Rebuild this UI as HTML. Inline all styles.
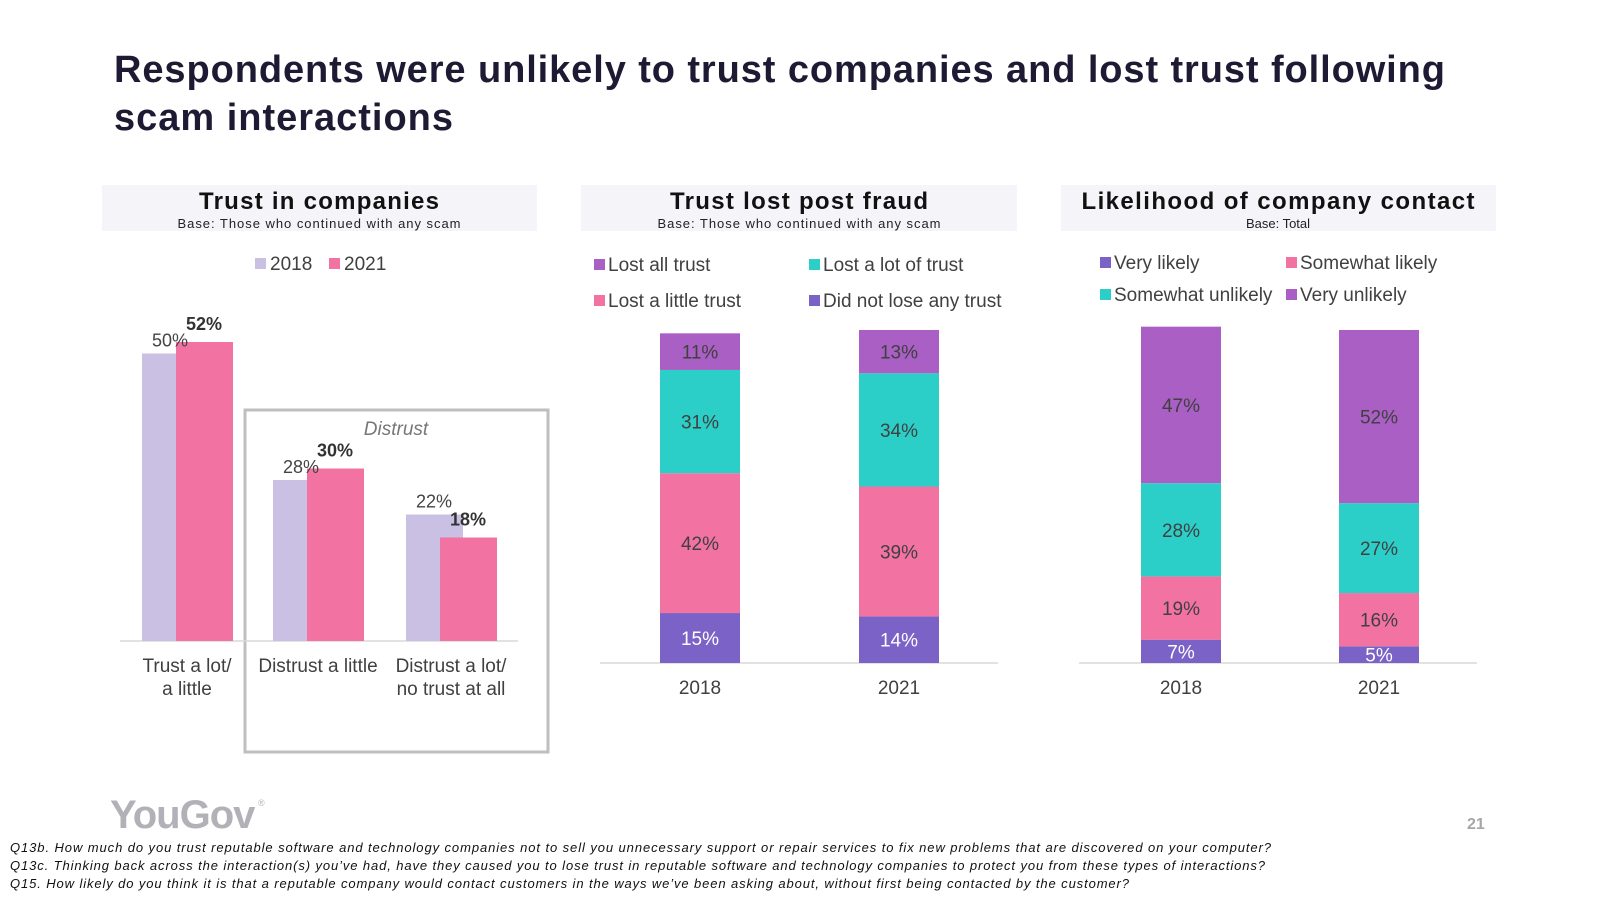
<!DOCTYPE html>
<html><head><meta charset="utf-8"><style>
body{margin:0;background:#fff;}
svg{display:block;font-family:"Liberation Sans",Arial,sans-serif;}
</style></head><body>
<svg id="s" width="1600" height="900" viewBox="0 0 1600 900">
<text x="114" y="82" font-size="38" font-weight="bold" fill="#1f1a33" textLength="1331" lengthAdjust="spacing">Respondents were unlikely to trust companies and lost trust following</text>
<text x="114" y="130" font-size="38" font-weight="bold" fill="#1f1a33" textLength="339" lengthAdjust="spacing">scam interactions</text>

<rect x="102" y="185" width="435" height="46" fill="#f5f5f9"/>
<text x="319" y="209" font-size="24" font-weight="bold" text-anchor="middle" fill="#111" textLength="240" lengthAdjust="spacing">Trust in companies</text>
<text x="319" y="228" font-size="13" text-anchor="middle" fill="#222" textLength="283" lengthAdjust="spacing">Base: Those who continued with any scam</text>
<rect x="581" y="185" width="436" height="46" fill="#f5f5f9"/>
<text x="799" y="209" font-size="24" font-weight="bold" text-anchor="middle" fill="#111" textLength="258" lengthAdjust="spacing">Trust lost post fraud</text>
<text x="799" y="228" font-size="13" text-anchor="middle" fill="#222" textLength="283" lengthAdjust="spacing">Base: Those who continued with any scam</text>
<rect x="1061" y="185" width="435" height="46" fill="#f5f5f9"/>
<text x="1278" y="209" font-size="24" font-weight="bold" text-anchor="middle" fill="#111" textLength="393" lengthAdjust="spacing">Likelihood of company contact</text>
<text x="1278" y="228" font-size="13" text-anchor="middle" fill="#222">Base: Total</text>

<rect x="245" y="410" width="303" height="342" fill="none" stroke="#bfbfbf" stroke-width="3"/>
<text x="396" y="435" font-size="19" font-style="italic" text-anchor="middle" fill="#777">Distrust</text>

<g id="c1"></g><g id="c2"></g><g id="c3"></g>

<text x="110" y="828" font-size="40" font-weight="bold" fill="#b3b1b8" letter-spacing="-1">YouGov</text>
<text x="258" y="806" font-size="9" fill="#b3b1b8">®</text>
<text x="1467" y="829" font-size="16" font-weight="bold" fill="#a6a6a6">21</text>
<text x="10" y="852" font-size="13" font-style="italic" fill="#111" textLength="1261" lengthAdjust="spacing">Q13b. How much do you trust reputable software and technology companies not to sell you unnecessary support or repair services to fix new problems that are discovered on your computer?</text>
<text x="10" y="870" font-size="13" font-style="italic" fill="#111" textLength="1255" lengthAdjust="spacing">Q13c. Thinking back across the interaction(s) you’ve had, have they caused you to lose trust in reputable software and technology companies to protect you from these types of interactions?</text>
<text x="10" y="888" font-size="13" font-style="italic" fill="#111" textLength="1119" lengthAdjust="spacing">Q15. How likely do you think it is that a reputable company would contact customers in the ways we’ve been asking about, without first being contacted by the customer?</text>
</svg>
<script>
const c1Categories=[["Trust a lot/","a little"],["Distrust a little"],["Distrust a lot/","no trust at all"]];
const c1Values2018=[50,28,22];
const c1Values2021=[52,30,18];
const stackYears=["2018","2021"];
const c2Series=["Did not lose any trust","Lost a little trust","Lost a lot of trust","Lost all trust"];
const c2Values=[[15,14],[42,39],[31,34],[11,13]];
const c3Series=["Very likely","Somewhat likely","Somewhat unlikely","Very unlikely"];
const c3Values=[[7,5],[19,16],[28,27],[47,52]];

const NS="http://www.w3.org/2000/svg";
function el(p,t,a,txt){const e=document.createElementNS(NS,t);for(const k in a)e.setAttribute(k,a[k]);if(txt!=null)e.textContent=txt;p.appendChild(e);return e;}
const LAV="#c9c0e4",PINK="#f272a2",CYAN="#2ccfc8",PUR="#a95fc4",DPUR="#7b62c6";

const g1=document.getElementById('c1');
const base1=641,k1=5.75,cx1=[187,318,451];
const y1=v=>base1-v*k1;
let ax=el(g1,'line',{x1:120,x2:518,y1:base1,y2:base1,stroke:'#d9d9d9','stroke-width':1.5});

c1Categories.forEach((cat,i)=>{
  const c=cx1[i];
  let b=el(g1,'rect',{x:c-45,y:y1(c1Values2018[i]),width:57,height:c1Values2018[i]*k1,fill:LAV});
  
  let b2=el(g1,'rect',{x:c-11,y:y1(c1Values2021[i]),width:57,height:c1Values2021[i]*k1,fill:PINK});
  
  let t=el(g1,'text',{x:c-17,y:y1(c1Values2018[i])-7,'font-size':18,'text-anchor':'middle',fill:'#444'},c1Values2018[i]+'%');
  
  let t2=el(g1,'text',{x:c+17,y:y1(c1Values2021[i])-12,'font-size':18,'font-weight':'bold','text-anchor':'middle',fill:'#333'},c1Values2021[i]+'%');
  
  cat.forEach((ln,j)=>{let tl=el(g1,'text',{x:c,y:672+j*23,'font-size':19,'text-anchor':'middle',fill:'#404040'},ln);
    });
});
[[255,'2018',LAV],[329,'2021',PINK]].forEach(([x,l,c])=>{
  let s=el(g1,'rect',{x:x,y:258,width:11,height:11,fill:c});
  let t=el(g1,'text',{x:x+15,y:270,'font-size':19,fill:'#404040'},l);
});

function stacked(g,series,vals,colors,txtCol,barX,axisX,k,legendPos,name){
  const base=663;
  let a=el(g,'line',{x1:axisX[0],x2:axisX[1],y1:base,y2:base,stroke:'#d9d9d9','stroke-width':1.5});
  
  stackYears.forEach((yr,j)=>{
    let cum=0;
    series.forEach((s,i)=>{
      const v=vals[i][j];const y=base-(cum+v)*k;
      let r=el(g,'rect',{x:barX[j],y:y,width:80,height:v*k,fill:colors[i]});
      
      let t=el(g,'text',{x:barX[j]+40,y:y+v*k/2+7,'font-size':19,'text-anchor':'middle',fill:txtCol[i]},v+'%');
      
      cum+=v;
    });
    let xl=el(g,'text',{x:barX[j]+40,y:694,'font-size':19,'text-anchor':'middle',fill:'#404040'},yr);
    
  });
  legendPos.forEach(([si,x,y])=>{
    let s=el(g,'rect',{x:x,y:y-5,width:11,height:11,fill:colors[si]});
    let t=el(g,'text',{x:x+14,y:y+7,'font-size':19,fill:'#404040'},series[si]);
  });
}
stacked(document.getElementById('c2'),c2Series,c2Values,[DPUR,PINK,CYAN,PUR],['#fff','#404040','#404040','#404040'],[660,859],[600,998],3.33,
  [[3,594,264],[2,809,264],[1,594,300],[0,809,300]],'chart2');
stacked(document.getElementById('c3'),c3Series,c3Values,[DPUR,PINK,CYAN,PUR],['#fff','#404040','#404040','#404040'],[1141,1339],[1079,1477],3.33,
  [[0,1100,262],[1,1286,262],[2,1100,294],[3,1286,294]],'chart3');
</script>
</body></html>
